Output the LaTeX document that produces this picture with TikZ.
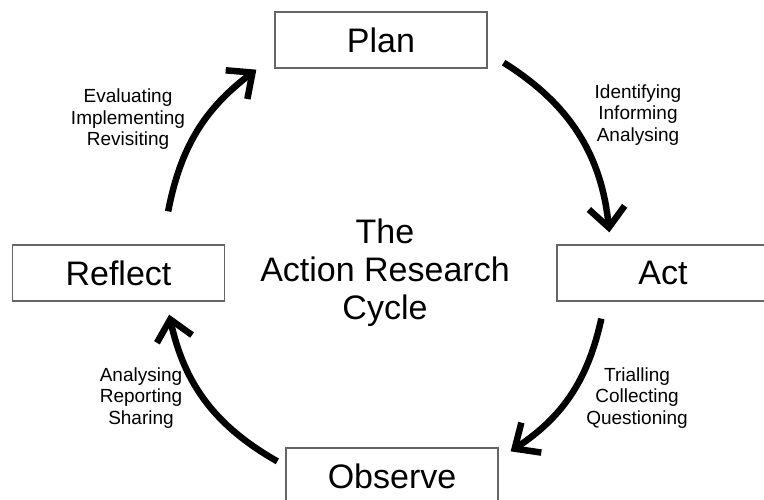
\documentclass[tikz,border=0pt]{standalone}
\usepackage{fontspec}
\setmainfont{Liberation Sans}
\usetikzlibrary{arrows.meta,positioning,calc}

\begin{document}
\begin{tikzpicture}[
	x = 1pt, y = -1pt, % image coordinates, y pointing down
	> = {Straight Barb[length=20pt, width=36pt]}, % arrow head style
	on grid, % centre to centre distances
	C/.style={->, line width=6.5pt}, % cycle arrows
	S/.style={rectangle, draw=black!60, line width=1.3pt, minimum width=212pt, minimum height=56pt, inner sep=0pt, font=\fontsize{34}{40}\selectfont}, % stage boxes
	W/.style={align=center, inner sep=0pt, font=\fontsize{19}{21.5}\selectfont}, % activity words
	T/.style={align=center, inner sep=0pt, font=\fontsize{34}{38}\selectfont}, % title
	]
	\useasboundingbox (0,0) rectangle (764,499);

	% Nodes and their relative positions
	\node[T] (Cyc) at (385,273) {The\\Action Research\\Cycle};
	\node[S] (Plan) [above = 233pt of Cyc, xshift=-4pt] {Plan};
	\node[S] (Act) [right = 278pt of Cyc] {Act};
	\node[S] (Observe) [below = 203pt of Cyc, xshift=7pt] {Observe};
	\node[S] (Reflect) [left = 266.5pt of Cyc] {Reflect};

	% activities along the cycle
	\node[W] (PA) at (638,115) {Identifying\\Informing\\Analysing};
	\node[W] (AO) at (637,398) {Trialling\\Collecting\\Questioning};
	\node[W] (OR) at (141,398) {Analysing\\Reporting\\Sharing};
	\node[W] (RP) at (128,119.5) {Evaluating\\Implementing\\Revisiting};

	% Paths connecting nodes
	\draw[C] ($(Plan.south east)+(16,-6)$) to[bend left=26] ($(Act.north west)+(53,-12)$);
	\draw[C] ($(Act.south west)+(45,17)$) to[bend left=22] ($(Observe.north east)+(12,4)$);
	\draw[C] ($(Observe.north west)+(-8,14)$) to[bend left=24] ($(Reflect.south east)+(-56,13)$);
	\draw[C] ($(Reflect.north east)+(-57,-33)$) to[bend left=21] ($(Plan.south west)+(-18,1)$);

\end{tikzpicture}
\end{document}
